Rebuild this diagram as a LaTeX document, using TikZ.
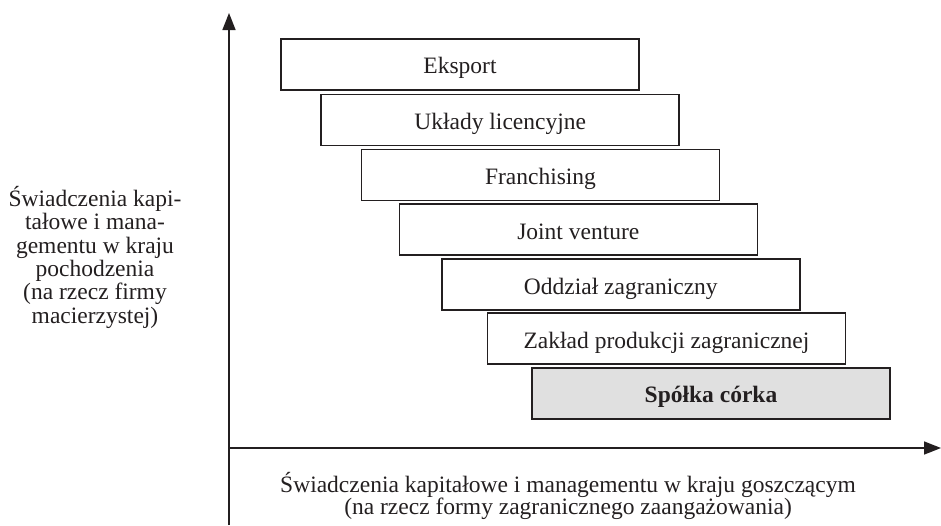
\documentclass[tikz,border=0pt]{standalone}
\usepackage{fontspec}
\setmainfont{Liberation Serif}
\usetikzlibrary{arrows.meta}
\definecolor{ink}{HTML}{231F20}
\begin{document}
\begin{tikzpicture}[x=1pt,y=-1pt,
  every node/.style={font=\fontsize{23.5}{23.5}\selectfont,text=ink,inner sep=0pt},
  formbox/.style={draw=ink,line width=1.6pt,minimum width=358pt,minimum height=51pt,fill=white,text height=19pt,text depth=0pt},
  lbl/.style={anchor=base},
  axis/.style={line width=1.6pt,draw=ink,-{Triangle[length=17pt,width=13pt]}}]
\useasboundingbox (0,0) rectangle (941,525);
\coordinate (origin) at (229,448);
\coordinate (ybottom) at (229,525);
\coordinate (ytop) at (229,13);
\coordinate (xright) at (941,448);
\draw[axis] (ybottom) -- (ytop);
\draw[axis] (origin) -- (xright);
\node[formbox] (b1) at (460,64.2) {Eksport};
\node[formbox] (b2) at (500.2,119.8) {Układy licencyjne};
\node[formbox] (b3) at (540.5,174.8) {Franchising};
\node[formbox] (b4) at (578.3,229.6) {Joint venture};
\node[formbox] (b5) at (620.8,284.5) {Oddział zagraniczny};
\node[formbox] (b6) at (666.5,338.7) {Zakład produkcji zagranicznej};
\node[formbox,fill=black!12] (b7) at (711,393.2) {\textbf{Spółka córka}};
\node[lbl] (y1) at (95,206.5) {Świadczenia kapi-};
\node[lbl] (y2) at (95,229.8) {tałowe i mana-};
\node[lbl] (y3) at (95,253.1) {gementu w kraju};
\node[lbl] (y4) at (95,276.4) {pochodzenia};
\node[lbl] (y5) at (95,299.7) {(na rzecz firmy};
\node[lbl] (y6) at (95,323) {macierzystej)};
\node[lbl] (x1) at (568,492) {Świadczenia kapitałowe i managementu w kraju goszczącym};
\node[lbl] (x2) at (568,514) {(na rzecz formy zagranicznego zaangażowania)};
\end{tikzpicture}
\end{document}
